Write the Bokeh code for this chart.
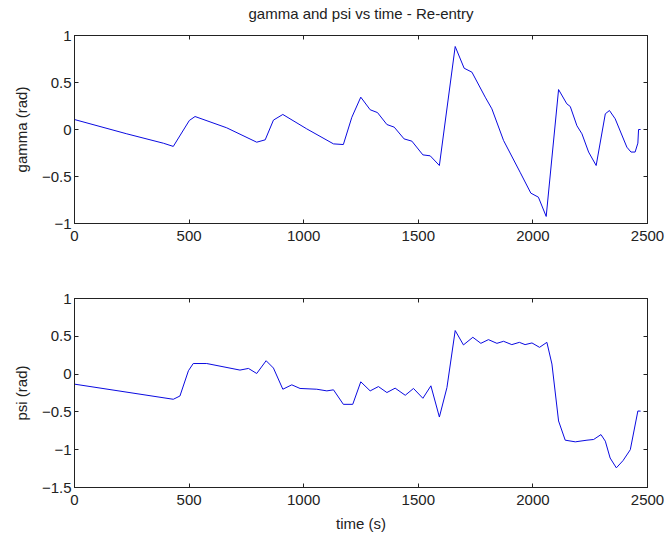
from bokeh.plotting import figure
from bokeh.layouts import column
from bokeh.models import LinearAxis, FixedTicker, Range1d
from bokeh.embed import file_html
from bokeh.resources import INLINE

# ---- data ----
t_gamma = [0, 228, 388, 431, 501, 526, 664, 795, 832, 868, 909, 1013, 1130, 1173,
           1210, 1249, 1290, 1322, 1363, 1395, 1438, 1472, 1520, 1552, 1592, 1661,
           1700, 1734, 1792, 1821, 1872, 1944, 1991, 2024, 2058, 2112, 2148, 2163,
           2192, 2214, 2243, 2276, 2316, 2334, 2359, 2410, 2428, 2446, 2458, 2461, 2470]
gamma = [0.106, -0.046, -0.146, -0.18, 0.096, 0.138, 0.018, -0.135, -0.11, 0.10, 0.16,
         0.007, -0.153, -0.16, 0.13, 0.344, 0.21, 0.18, 0.053, 0.025, -0.10, -0.124,
         -0.27, -0.28, -0.383, 0.883, 0.652, 0.61, 0.344, 0.22, -0.117, -0.454, -0.677,
         -0.72, -0.925, 0.425, 0.273, 0.245, 0.04, -0.046, -0.24, -0.383, 0.167, 0.202,
         0.114, -0.188, -0.24, -0.24, -0.145, 0.0, 0.0]

t_psi = [0, 431, 460, 497, 518, 577, 722, 759, 795, 836, 868, 909, 948, 984, 1057,
         1101, 1130, 1173, 1214, 1249, 1290, 1326, 1363, 1399, 1443, 1479, 1520, 1555,
         1592, 1625, 1661, 1697, 1738, 1773, 1806, 1843, 1872, 1908, 1941, 1966, 1996,
         2029, 2061, 2083, 2112, 2141, 2185, 2236, 2265, 2297, 2316, 2337, 2364, 2393,
         2425, 2458, 2470]
psi = [-0.133, -0.333, -0.29, 0.044, 0.14, 0.14, 0.053, 0.075, 0.008, 0.177, 0.08,
       -0.2, -0.142, -0.19, -0.2, -0.222, -0.208, -0.4, -0.4, -0.102, -0.222, -0.165,
       -0.244, -0.186, -0.28, -0.19, -0.32, -0.155, -0.568, -0.178, 0.576, 0.386, 0.487,
       0.407, 0.456, 0.407, 0.434, 0.39, 0.42, 0.39, 0.412, 0.354, 0.42, 0.133, -0.62,
       -0.874, -0.896, -0.874, -0.865, -0.8, -0.887, -1.11, -1.24, -1.145, -1.0,
       -0.488, -0.49]

x_ticks = [0, 500, 1000, 1500, 2000, 2500]
gamma_ticks = [-1, -0.5, 0, 0.5, 1]
psi_ticks = [-1.5, -1, -0.5, 0, 0.5, 1]

title_text = "gamma and psi vs time - Re-entry"
FONT = "Liberation Sans"
LINE_COLOR = "#0a0ae0"
INK = "#222222"


def style_axis(ax, ticks, labels=True, standoff=3):
    ax.ticker = FixedTicker(ticks=ticks)
    ax.major_tick_in = 4
    ax.major_tick_out = 0
    ax.minor_tick_line_color = None
    ax.axis_line_color = INK
    ax.major_tick_line_color = INK
    ax.major_label_text_font = FONT
    ax.major_label_text_color = INK
    ax.axis_label_text_font = FONT
    ax.axis_label_text_font_style = "normal"
    ax.axis_label_text_color = INK
    ax.axis_label_text_font_size = "15px"
    if labels:
        ax.major_label_text_font_size = "15px"
        ax.major_label_standoff = standoff
    else:
        ax.major_label_overrides = {t: "" for t in ticks}
        ax.major_label_text_font_size = "1px"
        ax.major_label_standoff = 0


def make_fig(height, yr, yticks, ylabel, top, bottom, xlabel=None, title=None):
    p = figure(width=665, height=height, x_range=Range1d(0, 2500), y_range=Range1d(*yr),
               output_backend="svg", toolbar_location=None,
               min_border_left=74, min_border_right=18,
               min_border_top=top, min_border_bottom=bottom)
    p.grid.visible = False
    p.outline_line_color = INK
    p.background_fill_color = "white"
    p.border_fill_color = "white"
    style_axis(p.xaxis[0], x_ticks, standoff=7)
    style_axis(p.yaxis[0], yticks, standoff=3)
    p.yaxis[0].axis_label = ylabel
    p.yaxis[0].axis_label_standoff = 9
    if xlabel:
        p.xaxis[0].axis_label = xlabel
        p.xaxis[0].axis_label_standoff = 7
    r_ax = LinearAxis()
    style_axis(r_ax, yticks, labels=False)
    p.add_layout(r_ax, "right")
    t_ax = LinearAxis()
    style_axis(t_ax, x_ticks, labels=False)
    if title:
        # the chart title sits centred above the top frame edge
        t_ax.axis_label = title
        t_ax.axis_label_standoff = 14
    p.add_layout(t_ax, "above")
    return p


p1 = make_fig(260, (-1, 1), gamma_ticks, "gamma (rad)", 35, 37, title=title_text)
p1.line(t_gamma, gamma, line_color=LINE_COLOR, line_width=1)

p2 = make_fig(277, (-1.5, 1), psi_ticks, "psi (rad)", 38, 50, xlabel="time (s)")
p2.line(t_psi, psi, line_color=LINE_COLOR, line_width=1)

layout = column(p1, p2, spacing=0)
open("out.html", "w").write(file_html(layout, INLINE))
